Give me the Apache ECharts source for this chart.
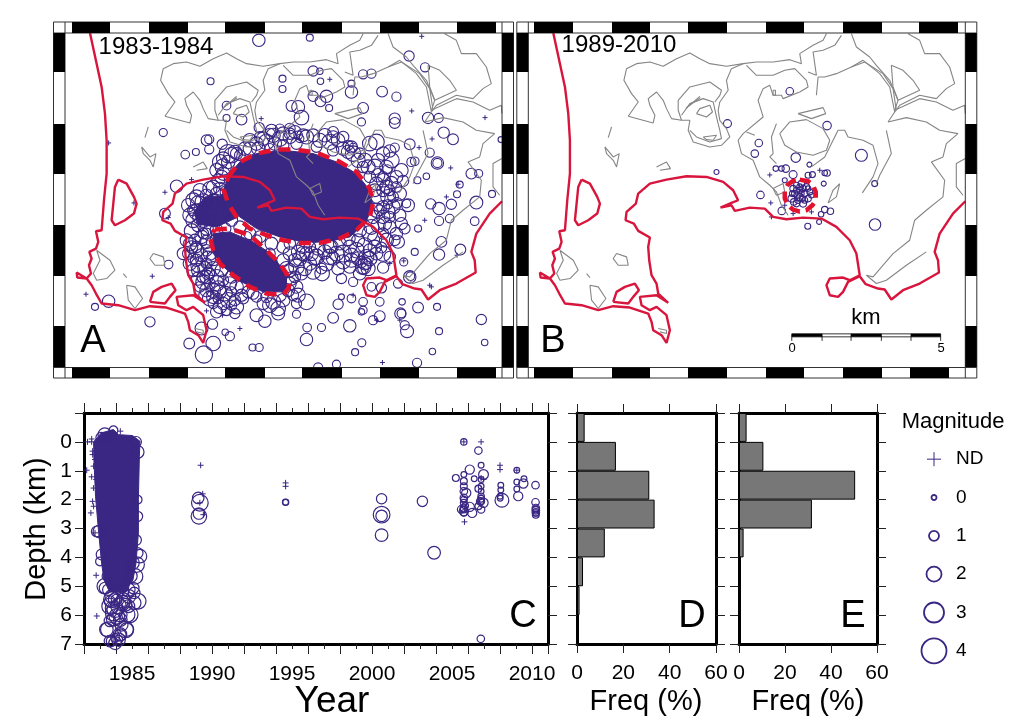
<!DOCTYPE html>
<html><head><meta charset="utf-8">
<style>html,body{margin:0;padding:0;background:#fff}#c{width:1024px;height:724px}</style>
<script src="https://cdn.jsdelivr.net/npm/echarts@6/dist/echarts.min.js"></script>
</head><body><div id="c"></div>
<script>
const INDIGO='#3a2683', RED='#d8153c', DASH='#e3122f', GRAY='#858585', FONT='"Liberation Sans",Arial,sans-serif';

// ---------- map outlines (map units) ----------
const coastRed=[[130,38],[150,130],[165,200],[175,280],[180,360],[180,460],[172,540],[165,630],[148,633],[155,665],[148,685],[128,695],[135,715],[127,735],[133,760],[120,775],[90,757],[92,772],[120,775],[135,795],[148,820],[165,850],[215,855],[265,870],[310,858],[360,862],[415,880],[425,905],[430,930],[455,945],[470,968],[480,930],[470,885],[440,860],[420,870],[395,855],[390,830],[440,825],[475,848],[445,820],[440,790],[425,765],[418,720],[415,680],[420,652],[385,632],[372,610],[347,600],[350,575],[378,550],[385,520],[420,490],[470,478],[530,468],[590,470],[640,485],[670,510],[685,540],[665,548],[632,562],[665,555],[675,572],[720,562],[765,565],[790,590],[830,597],[880,592],[935,595],[980,620],[1020,660],[1040,700],[1050,765],[1020,780],[1000,772],[960,775],[950,795],[960,825],[985,830],[1000,815],[1015,785],[1050,768],[1068,792],[1105,805],[1125,808],[1145,838],[1180,810],[1230,790],[1288,757],[1285,720],[1275,695],[1290,640],[1330,580],[1367,543]];
const islandRed1=[[215,478],[240,490],[262,530],[270,550],[262,580],[235,600],[205,615],[195,600],[200,550],[205,500],[215,478]];
const islandRed2=[[310,845],[320,815],[345,800],[375,790],[387,810],[370,830],[355,850],[310,845]];
const contours=[
[[355,288],[385,245],[365,220],[342,180],[350,145],[380,130],[420,125],[460,138],[500,115],[540,98],[570,115],[600,130],[650,138],[700,130],[740,125],[790,125],[840,118],[875,130],[870,100],[910,75],[940,60],[950,40]],
[[355,288],[430,308],[435,285],[420,255],[415,235],[440,215],[460,240],[470,265],[485,295],[515,300],[540,300],[535,330],[550,365],[600,380],[635,375],[660,350],[650,325],[630,300],[625,270],[630,245],[655,210],[650,180],[665,145],[700,130]],
[[515,300],[505,270],[505,240],[540,200],[600,185],[635,210],[630,225],[615,245]],
[[540,330],[560,350],[600,365],[635,355],[630,330],[620,290],[610,245],[580,235],[540,250],[515,285]],
[[528,265],[570,228]],
[[530,262],[572,232]],
[[560,280],[570,265],[600,255],[608,275],[590,290],[560,280]],
[[580,350],[620,345],[610,360],[590,358],[580,350]],
[[710,135],[740,165],[790,165],[825,150],[855,145],[890,180],[895,200],[870,215],[820,235],[815,225],[790,225],[780,195],[760,205],[745,240],[760,290],[700,340],[685,360],[695,400],[730,420],[750,470],[780,495],[800,515],[815,555],[835,585]],
[[790,505],[820,490],[825,515],[800,525],[790,505]],
[[710,335],[735,345]],
[[790,210],[797,210],[797,225],[790,225],[790,210]],
[[810,340],[840,305],[890,298],[940,325],[960,360],[950,390],[910,405],[860,395],[825,375],[810,340]],
[[800,310],[785,350],[790,400],[780,410],[800,430]],
[[865,280],[940,262],[948,280],[905,295],[865,280]],
[[905,440],[945,410],[960,380],[985,330],[1005,330],[1015,350],[1060,360],[1090,375],[1105,430],[1090,470],[1058,518]],
[[990,490],[980,530],[955,548],[970,510],[990,490]],
[[895,155],[920,165],[910,95],[940,90],[975,75],[995,45]],
[[920,225],[925,170],[945,170],[980,160],[1025,140],[1060,120],[1110,160],[1140,200],[1155,275],[1135,305]],
[[1025,140],[1065,125],[1120,160],[1150,205],[1160,270]],
[[1025,40],[1040,80],[1080,110],[1100,135],[1140,180],[1165,240],[1155,270]],
[[1145,135],[1150,200],[1165,240],[1230,210],[1210,180],[1180,150],[1145,135]],
[[1195,40],[1230,60],[1245,100],[1290,100],[1320,140],[1335,190],[1310,205],[1280,235],[1230,225],[1170,255],[1155,275]],
[[1155,270],[1230,235],[1280,245],[1330,270],[1365,255],[1367,280]],
[[1135,305],[1190,292],[1250,305],[1290,330],[1345,340],[1310,370],[1300,410],[1265,425],[1305,480],[1300,530],[1250,570],[1215,600],[1200,660],[1150,700],[1090,770],[1070,765],[1100,790],[1130,780],[1190,735],[1250,695]],
[[1130,330],[1145,400],[1110,465],[1100,490]],
[[1367,415],[1340,430],[1340,500],[1360,525]],
[[305,320],[295,352]],
[[285,380],[290,400],[310,420],[320,440],[328,400],[310,410],[285,380]],
[[440,440],[470,425],[482,445],[450,450]],
[[320,700],[350,710],[355,735],[325,735],[310,715],[320,700]],
[[150,690],[190,720],[205,750],[180,775],[150,780],[140,760],[160,720],[150,690]],
[[240,795],[265,800],[288,835],[265,865],[245,840],[240,795]],
[[230,760],[240,772]],
[[445,925],[470,930],[470,940],[450,935]]
];

// ---------- panel A events: x, y (map units), magnitude ----------
const coreA1=[[540,460],[570,425],[620,400],[700,390],[790,400],[860,425],[920,460],[960,510],[970,560],[945,610],[900,650],[830,665],[760,665],[690,650],[620,625],[570,590],[535,560],[520,510]];
const coreA2=[[432,575],[465,530],[535,525],[565,590],[500,620],[445,612]];
const coreA3=[[490,640],[540,635],[610,665],[670,705],[710,770],[710,815],[640,815],[575,785],[515,735],[490,695]];
const eventsA=[[627,60,1.3],[780,52,.3],[1078,107,.9],[1126,141,.7],[482,183,.3],[698,175,.3],[698,206,.3],[790,152,.9],[810,153,.2],[812,183,.2],[905,190,.3],[905,215,1.3],[940,162,.7],[965,160,.7],[997,214,1],[1040,229,.7],[790,228,.9],[812,243,1],[830,228,1.3],[838,263,.3],[725,257,1],[745,260,1.4],[755,292,1.7],[940,263,1],[935,305,.5],[1035,295,1.1],[1035,308,1],[1135,293,1.1],[1167,293,.7],[530,256,.6],[530,293,.3],[575,298,1],[340,337,.5],[628,322,.9],[660,340,1],[690,325,.7],[720,325,1],[745,345,.6],[850,335,1],[850,350,1.3],[1182,337,1.1],[1210,357,1],[1354,358,.1],[478,357,.7],[517,372,.9],[438,395,.3],[406,403,.6],[478,387,.7],[1140,397,.7],[1080,372,1],[1035,382,.7],[1020,392,1.3],[960,370,1.7],[980,365,1.9],[910,382,.6],[1085,425,.7],[1095,423,.6],[1163,428,1.3],[1163,428,.7],[1013,447,.7],[1265,460,1],[1287,460,.5],[1130,468,.2],[1230,493,.3],[1103,480,.3],[1025,487,1.3],[1060,482,1.1],[380,498,1.3],[1327,521,.3],[1222,522,.3],[1280,547,1.4],[1143,551,.9],[1168,565,1.3],[1205,552,.9],[1070,550,.6],[1042,548,1],[1015,552,.7],[1050,585,1.3],[1020,590,1.1],[1275,603,.6],[1168,602,.7],[1200,595,.6],[1105,625,.3],[1040,640,1.3],[1065,625,1],[1000,640,1.1],[1035,660,1],[345,580,1],[425,632,1.7],[1175,665,1],[1095,695,.3],[1168,703,1.1],[1232,688,1],[995,682,1],[1020,710,1.1],[1062,725,.5],[1000,742,1.1],[1080,770,1.3],[1082,768,.6],[960,715,1.7],[945,730,1.4],[940,745,1],[875,775,.9],[817,760,1.7],[815,745,1],[910,785,.7],[965,800,.6],[995,803,.9],[1045,790,.7],[1105,862,1],[1162,860,.3],[1057,845,.2],[990,845,.6],[940,845,.6],[865,852,.9],[905,835,.6],[875,830,.1],[940,870,.5],[935,875,.2],[990,888,1],[850,893,1],[970,900,.7],[1055,880,.6],[1052,880,1.1],[1065,915,.7],[1072,933,1.4],[900,917,1.3],[815,922,.5],[772,922,.6],[770,958,1.3],[1295,898,.9],[1168,933,.3],[1305,967,.2],[936,968,.5],[916,996,.3],[1148,994,.2],[1102,1028,.7],[860,1032,.5],[805,1042,.7],[608,982,.3],[628,982,.5],[462,1003,2.2],[490,970,1.7],[418,970,1],[540,948,.7],[526,936,.2],[488,912,.9],[300,905,.9],[176,843,1.3],[135,860,.3],[356,733,.6],[455,925,1.4],[620,885,1.4],[645,903,1.3],[660,855,1.7],[685,865,1.7],[685,880,1.4],[740,882,.5],[740,850,.9],[770,845,1.9],[730,825,1],[555,880,.9],[530,870,1],[520,850,1.3],[490,810,1.7],[460,770,1.3],[450,800,1],[480,790,1],[545,815,.9],[555,840,1.1],[505,835,.9],[520,780,1],[490,850,.9],[545,855,.9],[425,680,1.3],[430,715,1],[460,665,.3],[440,720,1.3],[470,730,1],[480,760,.9],[445,550,1.9],[470,525,1.3],[500,520,1.3],[450,590,1.7],[430,570,1.1],[480,600,1]];
const eventsADense=[[650,365,1.3],[690,355,1.3],[720,350,1],[770,350,1.1],[810,360,1.1],[840,365,1.3],[880,385,1],[910,400,1.3],[945,420,1.1],[975,440,1.3],[1000,480,1],[1000,510,.9],[985,530,1.1],[1000,560,.9],[1000,590,1],[985,615,1.1],[960,640,1.3],[925,660,.9],[920,690,1.3],[880,700,1.5],[840,710,1.3],[800,710,1.3],[760,700,1.1],[720,700,1],[740,740,1.3],[780,730,1],[880,725,1.1],[900,740,.9],[940,740,1.3],[520,440,1.4],[505,480,.9],[545,405,1.3],[600,385,1],[570,405,.6],[620,370,1],[520,415,1],[520,460,1],[490,500,1],[535,400,1.7],[1000,470,.6],[960,470,.7],[940,440,.7],[930,400,.7],[895,375,.5],[700,375,.7],[740,370,.7],[660,385,.5],[750,355,.2],[800,380,.6],[850,390,.7],[1020,510,.6],[1040,500,.6],[1030,530,.6],[960,690,.9],[980,700,.9],[700,720,.9],[660,700,.6],[620,660,.6],[590,650,.6],[720,670,.7],[780,680,.7],[840,680,1],[900,680,1],[870,670,.9],[930,630,1],[970,590,1],[990,570,.6],[720,750,1],[735,770,.7],[715,810,.9],[690,825,.9],[650,830,.7],[610,820,.7],[575,800,.9],[545,770,.9],[515,750,.9],[490,715,1.1],[470,690,.7],[470,640,.6],[500,660,.9],[460,640,.6],[415,700,.7],[440,680,.7],[445,750,1],[470,770,1],[500,790,1.3],[580,835,.6],
[420,672,1],[440,690,1.1],[455,705,.9],[420,730,1],[445,735,1.2],[430,750,.9],[465,745,1.1],[480,700,1],[400,700,.8],[410,660,.9],[455,650,1],[435,660,.8],[470,665,1],[475,715,1.2],[490,745,1.1],[500,770,1.2],[505,805,1.3],[470,810,1],[480,835,1.2],[510,860,1],[525,820,1.2],[540,790,1],[560,800,1],[460,785,1.2],[445,775,1],[475,760,.9],[535,840,1.3],[560,860,1.1],[510,815,1],[575,825,.8],[595,815,.8],[620,830,.6],[490,830,1],[465,825,.8],[500,875,.8],
[430,540,1.2],[440,530,1.1],[450,510,1],[480,505,1.1],[510,505,.9],[430,600,1.2],[445,615,1],[470,625,1],[500,630,.9],[525,625,.8],[415,555,1],[420,585,1.1],[460,600,1.1],[440,575,1.3],[460,545,1.4],[490,545,1.3],[510,580,1.2],[530,515,.9],[475,570,1.3],[505,555,1.2],
[600,360,1],[640,355,1],[670,345,1.1],[700,340,1],[735,335,.9],[760,345,.9],[790,345,.9],[825,345,1],[865,360,1],[895,395,1],[925,420,1.1],[955,440,1.1],[985,465,1],[1010,500,1],[1015,530,1.2],[1015,575,1.1],[1005,610,1],[975,655,1.1],[945,675,1.2],[905,705,1.1],[860,700,1.2],[825,695,1.1],[785,700,1.1],[745,695,1],[700,680,.9],[665,670,.9],[630,650,.8],[600,640,.8],[570,620,.8],[545,600,.8],[510,425,1.2],[500,450,1],[515,470,1],[535,425,1],[555,395,1],[585,385,1],[625,385,1],[675,370,1],[980,490,1],[975,510,.9],[980,570,1.1],[965,620,1.2],[895,655,1.1],[845,680,1],[805,685,1],[760,680,1],
[750,715,1.1],[765,745,1.1],[790,755,1.2],[830,730,1.2],[850,715,1],[865,745,.9],[905,720,1.1],[925,715,1],[950,710,1.2],[955,745,1.1],[930,760,.9],[935,725,.7],[950,730,.7],[795,715,1],[770,700,1],[735,720,1],[710,745,1.1],[755,760,.9],[740,800,.9],[725,775,1],[745,825,1.1],[720,790,.9],[700,840,1],[670,845,1.2],[640,850,.8],
[1050,520,1],[1075,555,.9],[1030,560,1.1],[1020,620,.9],[1010,660,1.1],[1055,610,.8],[1045,665,.9],[975,680,1],[1000,700,1.3],[1010,440,1],[1040,470,.9],[985,420,1],[1025,420,1.3],[1000,400,1],[1055,450,1],[880,350,.7],[905,380,.8],[630,350,.6],[665,330,.8],[720,340,.7],[560,400,.8],[470,360,.6]];
const crossesA=[[1116,48],[840,177],[1086,272],[1306,292],[634,295],[1147,356],[1108,382],[176,368],[1203,443],[425,478],[345,516],[252,548],[1190,530],[1225,492],[1125,600],[355,592],[1222,705],[1020,730],[1062,722],[1140,795],[1145,800],[108,822],[307,768],[470,872],[518,885],[570,925],[980,900],[910,825],[1050,900],[998,1027]];
const zoneA1=[[535,470],[570,425],[620,400],[680,388],[740,388],[800,397],[870,425],[920,455],[960,505],[970,550],[960,590],[920,630],[870,655],[810,668],[750,668],[700,660],[650,645],[600,625],[560,590],[535,550],[522,510],[535,470]];
const zoneA2=[[495,628],[540,625],[600,645],[650,690],[690,730],[710,760],[718,800],[700,825],[650,820],[600,800],[550,765],[510,730],[490,690],[480,650],[495,628]];

// ---------- panel B events ----------
const eventsB=[[840,213,.5],[653,310,.6],[952,316,.7],[747,368,.5],[735,400,.5],[1055,405,1.4],[858,412,.9],[899,433,0],[798,445,.1],[815,445,.1],[828,445,.5],[620,455,0],[850,463,.6],[895,465,.2],[908,463,.2],[945,458,.1],[952,458,.3],[825,480,0],[942,490,0],[1095,490,.2],[752,524,.5],[816,572,.5],[945,568,.3],[962,573,.3],[934,582,.1],[928,605,0],[894,618,.2],[1096,613,1.3],[850,505,.3],[860,495,.2],[875,490,.3],[890,500,.3],[900,515,.2],[895,535,.3],[880,550,.4],[860,550,.3],[845,535,.4],[855,520,.3],[870,510,.2],[885,520,.3],[870,530,.4],[860,510,.2],[880,505,.3],[865,540,.3],[875,520,.1],[848,520,.2],[895,505,.1],[885,540,.2],[905,525,.1],[870,500,.2],[862,525,.3],[878,535,.2],[852,545,.3]];
const crossesB=[[780,464],[783,548],[825,555],[785,590],[905,575],[930,450],[850,580]];
const zoneB=[[870,478],[895,483],[910,495],[918,515],[918,540],[908,555],[890,570],[870,574],[850,568],[835,555],[825,535],[825,510],[835,492],[850,482],[870,478]];
const scaleBlack=[[[846,945],[937,945]],[[1024,945],[1115,945]],[[1204,945],[1293,945]]];
const scaleOutline=[[[846,941],[1293,941]],[[846,950],[1293,950]]];
const scaleTicks=[846,937,1024,1115,1204,1293];

// ---------- panel C: year, depth (km), magnitude ----------
const coreC=[[1982.6,0],[1983.08,-.31],[1983.84,-.43],[1984.16,-.25],[1985.03,-.22],[1985.5,-.02],[1985.46,.5],[1985.4,2],[1985.4,3.15],[1985.25,4.2],[1985.06,4.78],[1984.56,5.2],[1983.6,5.2],[1983.25,4.78],[1983.1,4.2],[1982.9,3.04],[1982.72,1.88],[1982.62,.61]];
const eventsCDense=[[1983.4,6.5,1],[1983.73,5.46,1.4],[1984.16,5.69,1.3],[1983.84,5.92,1.4],[1984.38,5.58,1.3],[1983.62,6.2,.7],[1984.27,6.16,1],[1984.7,5.98,1.3],[1985.14,5.58,1],[1984.6,6.5,1.4],[1984.27,6.68,.7],[1983.62,6.9,.7],[1984.16,6.85,1],[1983.95,6.97,.9],[1983.3,5,1.3],[1984.92,4.65,.9],[1985.03,4.19,1],[1985.14,5.23,.7],[1984.81,5.35,1],[1982.97,3.1,.9],[1982.8,3.1,.6],[1985.35,3.85,.6],[1985.25,3.4,.6],[1983.73,5.35,1],[1984.38,5.17,.9],[1985.35,.35,.9],[1985.25,0,.6],[1983.3,-.25,1],[1983.84,-.4,.3],[1983.08,-.14,.6],[1985.35,2,.3],[1985.35,2.58,.5],[1984.05,6.04,1.3],[1983.73,5.75,.9],[1984.6,5.64,.9],[1983.95,5.46,1],[1983.52,5.12,.7],[1984.38,5,1],
[1985.19,4.66,1.3],[1985.29,4.25,1.3],[1985.5,3.96,1],[1985.39,5.52,1.3],[1984.87,5.98,1.4],[1984.66,6.5,1],[1984.25,6.67,1],[1983.52,6.5,1.3],[1983.94,5.8,1.4],[1983.62,5.69,1.4],[1983.83,6.15,1],[1983.62,5.52,.6],[1983.31,5.06,.7],[1983.41,4.65,.3],[1983.1,3.9,.6],[1983,4.14,.3],[1984.77,5.12,1],[1984.46,5.46,1],[1984.25,5.98,1.1],[1984.04,5.46,.6],[1985.08,5.06,.7],[1984.77,5.69,.9],[1983.73,6.9,.6],[1984.14,6.85,.3],[1983.94,6.79,.3],[1984.35,6.33,.9]];
const eventsCLater=[[1989.24,2.11,1.9],[1989.14,1.94,1],[1989.18,2.58,1.7],[1989.18,2.48,1],[1994.6,2.09,.1],[1994.6,2.09,0],[2000.6,1.97,.8],[2000.6,2.52,1.9],[2000.6,2.56,1],[2000.6,3.23,1.2],[2003.15,2.06,.8],[2003.88,3.84,1.2],
[2005.74,0,.1],[2005.24,1.25,.2],[2005.74,1.13,0],[2005.74,1.36,.2],[2005.74,1.54,.2],[2005.74,1.71,.3],[2005.89,1.77,.6],[2005.74,1.94,.3],[2005.74,2,.1],[2005.74,2.11,.2],[2005.74,2.29,.3],[2005.74,2.4,.6],[2005.74,2.46,.1],[2005.74,2.34,.2],[2005.83,2.21,.1],[2005.57,2.34,.3],
[2006.11,.96,.6],[2006.11,2.25,.6],[2006.26,2.46,.6],[2006.39,1.28,0],[2006.65,.3,.3],[2006.82,.81,0],[2006.97,1.13,.7],[2006.82,1.3,0],[2006.65,1.62,.2],[2006.82,1.54,0],[2006.82,1.71,0],[2006.82,1.88,.1],[2006.82,1.97,.2],[2006.76,2.06,.3],[2006.97,2.11,.6],[2006.65,2.23,.2],[2006.82,2.34,.3],[2006.82,2.06,.2],[2006.8,6.82,.3],
[2008.05,1.5,0],[2008.05,1.67,0],[2008.01,1.88,0],[2008.01,1.95,0],[2008.12,2.02,1.4],[2009.05,.98,0],[2009.05,1.39,0],[2009.05,1.63,0],[2009.14,1.88,.6],[2009.46,1.44,.6],[2009.5,1.28,0],[2010.22,1.5,.3],[2010.22,2.09,.3],[2010.24,2.29,.3],[2010.24,2.37,.3],[2010.24,2.44,.3],[2010.24,2.52,.2],[2010.24,2.34,.2],[2010.24,2.46,.1]];
const crossesC=[[1984.27,-.37],[1982.22,0],[1982.48,0],[1982.54,.32],[1982.54,.44],[1982.69,.61],[1982.6,.84],[1982.17,.98],[1982.48,1.21],[1982.6,1.6],[1982.54,2.06],[1982.6,2.23],[1982.43,2.46],[1982.69,3.15],[1982.76,4.62],[1982.8,6.03],[1982.48,-.1],[1982.76,1.3],
[1989.29,.81],[1989.42,1.8],[1989.24,2.11],[1989.46,2.52],[1994.6,1.42],[1994.6,1.54],[2005.74,0],[2005.78,2.77],[2006.82,0],[2006.82,1.25],[2006.97,1.3],[2008,.81],[2008,.96],[2009.05,.98]];

// ---------- panels D, E, legend ----------
const depthBins=['-1–0','0–1','1–2','2–3','3–4','4–5','5–6','6–7'];
const freqD=[3.3,16.8,31.2,33.5,12,2.6,1.1,.5];
const freqE=[3.3,10.6,50.5,31.7,2,0,0,0];
const depthLabels=[0,1,2,3,4,5,6,7];
const yearLabels=[1985,1990,1995,2000,2005,2010];
const freqTicks=[0,20,40,60];
const legendRows=['ND','0','1','2','3','4'];
const legendMags=[0,1,2,3,4];

const CROSS='path://M5 0V10M0 5H10';
const magSize=m=>5+5*m;

function circles(data,xi,yi,lw,scale){const k=scale||1;return {type:'scatter',xAxisIndex:xi,yAxisIndex:yi,data,silent:true,symbol:'circle',z:2,
  symbolSize:v=>magSize(v[2])*k,itemStyle:{color:'rgba(0,0,0,0)',borderColor:INDIGO,borderWidth:lw||1,opacity:1},clip:true,large:false};}
function crosses(data,xi,yi,size){return {type:'scatter',xAxisIndex:xi,yAxisIndex:yi,data,silent:true,symbol:CROSS,symbolSize:size,z:2,
  itemStyle:{color:'rgba(0,0,0,0)',borderColor:INDIGO,borderWidth:1,opacity:1}};}
function solid(points,xi,yi){return {type:'custom',xAxisIndex:xi,yAxisIndex:yi,data:points,silent:true,z:2,clip:true,
  renderItem:(p,api)=>p.dataIndex!==0?null:{type:'polygon',shape:{points:points.map(q=>api.coord(q))},style:{fill:INDIGO,stroke:INDIGO}}};}
function path(data,xi,yi,color,w,z,dash){return {type:'line',xAxisIndex:xi,yAxisIndex:yi,data,silent:true,showSymbol:false,symbol:'none',z,
  lineStyle:{color,width:w,type:dash||'solid',cap:'butt'},clip:true};}

// axes ------------------------------------------------------------
const hiddenX=(g,a,b)=>({type:'value',gridIndex:g,min:a,max:b,show:false});
const hiddenY=(g,a,b)=>({type:'value',gridIndex:g,min:a,max:b,inverse:true,show:false});
const line3={show:true,onZero:false,lineStyle:{color:'#000',width:3}};
const tickS={show:true,length:9,lineStyle:{color:'#222',width:1}};
const labS={color:'#000',fontFamily:FONT,fontSize:21};
const yearAxis=(pos,lab)=>({type:'value',gridIndex:2,position:pos,min:1982,max:2011,interval:2,axisLine:line3,
  axisTick:{show:true,length:10,lineStyle:{color:'#222',width:1}},minorTick:{show:true,splitNumber:2,length:5,lineStyle:{color:'#222',width:1}},splitLine:{show:false},
  axisLabel:lab?{...labS,margin:20,customValues:yearLabels,formatter:v=>String(v),hideOverlap:false}:{show:false}});
const depthAxis=(pos,lab)=>({type:'value',gridIndex:2,position:pos,inverse:true,min:-1,max:7,interval:1,axisLine:line3,axisTick:tickS,splitLine:{show:false},
  axisLabel:lab?{...labS,margin:12,customValues:depthLabels}:{show:false}});
const freqAxis=(g,pos,lab)=>({type:'value',gridIndex:g,position:pos,min:0,max:60,interval:20,axisLine:line3,axisTick:tickS,splitLine:{show:false},
  axisLabel:lab?{...labS,margin:19,customValues:freqTicks,showMaxLabel:true}:{show:false}});
const binAxis=(g,pos)=>({type:'category',gridIndex:g,position:pos,inverse:true,data:depthBins,axisLine:line3,axisTick:{...tickS,alignWithLabel:false},axisLabel:{show:false},splitLine:{show:false}});

const option={animation:false,backgroundColor:'#fff',textStyle:{fontFamily:FONT},
 grid:[
  {left:65,top:33,width:437,height:334.5},
  {left:528.3,top:33,width:437,height:334.5},
  {left:84,top:413,width:464,height:231},
  {left:577,top:413,width:139,height:231},
  {left:739,top:413,width:138,height:231},
  {left:924,top:440,width:20,height:230}
 ],
 xAxis:[
  hiddenX(0,55,1367),hiddenX(1,55,1367),
  yearAxis('bottom',true),yearAxis('top',false),
  freqAxis(3,'bottom',true),freqAxis(3,'top',false),
  freqAxis(4,'bottom',true),freqAxis(4,'top',false),
  {type:'value',gridIndex:5,min:-1,max:1,show:false},
  hiddenX(0,45,1357)
 ],
 yAxis:[
  hiddenY(0,38,1042),hiddenY(1,38,1042),
  depthAxis('left',true),depthAxis('right',false),
  binAxis(3,'left'),binAxis(3,'right'),
  binAxis(4,'left'),binAxis(4,'right'),
  {type:'category',gridIndex:5,position:'right',inverse:true,data:legendRows,axisLine:{show:false},axisTick:{show:false},axisLabel:{color:'#000',fontFamily:FONT,fontSize:19,margin:12}}
 ],
 series:[
  // panel A
  circles(eventsA,9,0,1.1,1.08), circles(eventsADense,9,0,1.1,1.35), crosses(crossesA,9,0,5),
  solid(coreA1,9,0),solid(coreA2,9,0),solid(coreA3,9,0),
  ...contours.map(c=>path(c,0,0,GRAY,1.1,3)),
  path(coastRed,0,0,RED,2.4,4),path(islandRed1,0,0,RED,2.4,4),path(islandRed2,0,0,RED,2.4,4),
  path(zoneA1,9,0,DASH,4.5,5,[12,8]),path(zoneA2,9,0,DASH,4.5,5,[12,8]),
  // panel B
  circles(eventsB,1,1,1.1), crosses(crossesB,1,1,5),
  ...contours.map(c=>path(c,1,1,GRAY,1.1,3)),
  path(coastRed,1,1,RED,2.4,4),path(islandRed1,1,1,RED,2.4,4),path(islandRed2,1,1,RED,2.4,4),
  path(zoneB,1,1,DASH,4.5,5,[11,6]),
  ...scaleOutline.map(s=>path(s,1,1,'#000',.8,6)),
  ...scaleBlack.map(s=>path(s,1,1,'#000',3,6)),
  ...scaleTicks.map(t=>path([[t,941],[t,962]],1,1,'#000',.8,6)),
  // panel C
  solid(coreC,2,2),circles(eventsCDense,2,2,1.2,1.35),circles(eventsCLater,2,2,1.2,1.15),crosses(crossesC,2,2,6),
  // panels D, E
  {type:'bar',xAxisIndex:4,yAxisIndex:4,data:freqD,barWidth:'100%',silent:true,itemStyle:{color:'#777',borderColor:'#000',borderWidth:1}},
  {type:'bar',xAxisIndex:6,yAxisIndex:6,data:freqE,barWidth:'100%',silent:true,itemStyle:{color:'#777',borderColor:'#000',borderWidth:1}},
  // legend
  crosses([[0,'ND']],8,8,14),
  {type:'scatter',xAxisIndex:8,yAxisIndex:8,silent:true,symbol:'circle',
    data:legendMags.map((m,i)=>[0,legendRows[i+1],m]),symbolSize:v=>magSize(v[2]),
    itemStyle:{color:'rgba(0,0,0,0)',borderColor:INDIGO,borderWidth:1.8,opacity:1}}
 ],
 graphic:[]
};

// fancy GMT map frames ---------------------------------------------
function frame(ox,hTop,hBot){
  const L=ox, R=ox+437, T=33, B=367.5, O=L-11.5, E=R+11.5, out=[];
  const rect=(x,y,w,h)=>out.push({type:'rect',silent:true,z:50,shape:{x,y,width:w,height:h},style:{fill:'#000'}});
  const ln=(x1,y1,x2,y2)=>out.push({type:'line',silent:true,z:49,shape:{x1,y1,x2,y2},style:{stroke:'#333',lineWidth:1}});
  ln(O,22,E,22); ln(O,378,E,378); ln(O,22,O,378); ln(E,22,E,378);
  ln(O,T,E,T); ln(O,B,E,B); ln(L,22,L,378); ln(R,22,R,378);
  hTop.forEach(b=>rect(b[0],22,b[1]-b[0],T-22));
  hBot.forEach(b=>rect(b[0],B,b[1]-b[0],378-B));
  [[33,72],[124,174],[225,276],[326,367]].forEach(b=>{rect(O,b[0],11.5,b[1]-b[0]);rect(R,b[0],11.5,b[1]-b[0]);});
  return out;
}
const hA=[[72,110],[149,188],[225,265],[302,342],[380,419],[457,496]];
const hB=[[534,573],[612,650],[688,727],[766,804],[843,882],[919,958]];
const hB2=[[534,573],[612,650],[688,727],[766,804],[843,882],[910,949]];
const txt=(x,y,t,fs,extra)=>({type:'text',silent:true,z:60,x,y,style:Object.assign({text:t,fill:'#000',font:fs+'px '+FONT,textAlign:'center',textVerticalAlign:'middle'},extra||{})});
option.graphic=[...frame(65,hA,hA),...frame(528.3,hB,hB2),
  txt(156,47,'1983-1984',24), txt(619,45,'1989-2010',24),
  txt(93,342,'A',38), txt(553,342,'B',38),
  txt(866,318,'km',22), txt(792,348,'0',13), txt(941,348,'5',13),
  txt(523,617,'C',38), txt(692,617,'D',38), txt(853,617,'E',38),
  txt(332,702,'Year',37), txt(646,702,'Freq (%)',29), txt(808,702,'Freq (%)',29),
  txt(953,422,'Magnitude',22),
  {type:'text',silent:true,z:60,x:37,y:529,rotation:Math.PI/2,style:{text:'Depth (km)',fill:'#000',font:'29px '+FONT,textAlign:'center',textVerticalAlign:'middle'}}
];
const chart=echarts.init(document.getElementById('c'),null,{renderer:'canvas',width:1024,height:724});
chart.setOption(option);
</script></body></html>
